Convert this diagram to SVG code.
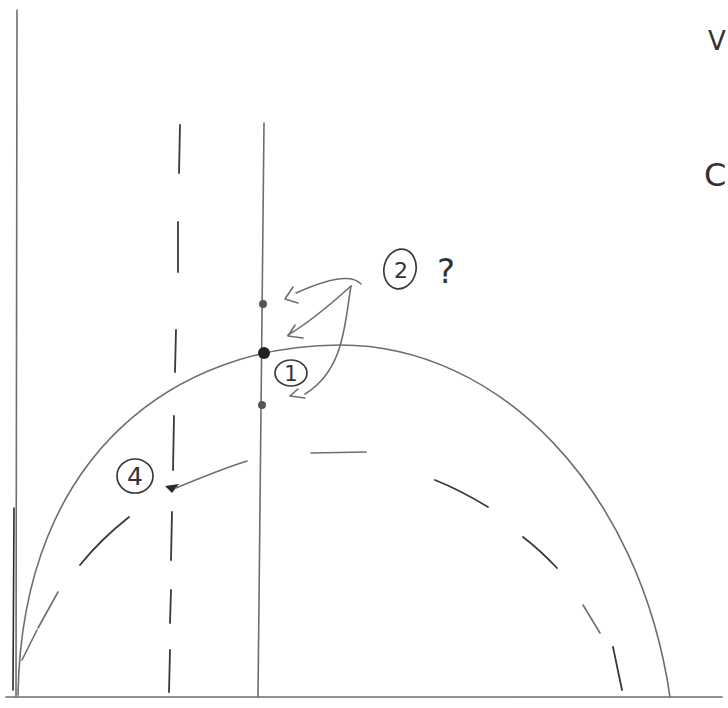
<svg xmlns="http://www.w3.org/2000/svg" width="728" height="708" viewBox="0 0 728 708">
<defs>
<style>
.pen{fill:none;stroke:#6e6e6e;stroke-width:1.6;stroke-linecap:round;stroke-linejoin:round}
.dark{fill:none;stroke:#2a2a2a;stroke-width:1.6;stroke-linecap:round}
.dash{fill:none;stroke:#3a3a3a;stroke-width:1.8;stroke-linecap:round}
.lbl{font-family:"DejaVu Sans","Liberation Sans",sans-serif;fill:#333}
.ring{fill:none;stroke:#3a3a3a;stroke-width:1.7}
</style>
</defs>
<rect width="728" height="708" fill="#fff"/>
<g id="axes">
<path class="pen" d="M17 10 L16 697"/>
<path class="dark" d="M14 508 L13 690"/>
<path class="pen" d="M6 697 L722 697"/>
</g>
<g id="curves">
<path class="pen" d="M18 695 C22 450 180 345 340 345 C500 345 640 490 670 697"/>
<g id="inner-arc">
<path class="pen" d="M22 660 L37 630"/>
<path class="pen" d="M38 628 L58 592"/>
<path class="dash" d="M80 565 Q100 540 129 517"/>
<path class="pen" d="M311 453 L366 452"/>
<path class="dash" d="M435 480 Q460 490 488 507"/>
<path class="dash" d="M523 537 Q540 550 557 568"/>
<path class="pen" d="M583 605 L600 633"/>
<path class="dash" d="M613 647 L622 690"/>
</g>
</g>
<g id="verticals">
<path class="dash" d="M180 125 L179 173"/>
<path class="dash" d="M178 222 L178 272"/>
<path class="dash" d="M176 330 L175 372"/>
<path class="dash" d="M174 416 L173 470"/>
<path class="dash" d="M172 512 L171 560"/>
<path class="dash" d="M171 590 L170 623"/>
<path class="dash" d="M170 650 L169 692"/>
<path class="pen" d="M264 123 L258 697"/>
</g>
<g id="point-2a"><circle cx="263" cy="304" r="4" fill="#555"/></g>
<g id="point-1"><circle cx="264" cy="353" r="6" fill="#222"/></g>
<g id="point-3"><circle cx="262" cy="405" r="4" fill="#555"/></g>
<g id="point-4"><path d="M165 486 L179 484 L172 493 Z" fill="#2a2a2a"/></g>
<g id="label-2">
<ellipse class="ring" cx="400" cy="269" rx="16" ry="20" transform="rotate(12 400 269)"/>
<text class="lbl" x="401" y="278" font-size="22" text-anchor="middle">2</text>
<text class="lbl" x="446" y="283" font-size="34" text-anchor="middle" fill="#444">?</text>
</g>
<g id="label-1">
<ellipse class="ring" cx="291" cy="373" rx="16" ry="13"/>
<text class="lbl" x="291" y="381" font-size="21" text-anchor="middle">1</text>
</g>
<g id="label-4">
<ellipse class="ring" cx="135" cy="476" rx="18" ry="17"/>
<text class="lbl" x="135" y="485" font-size="25" text-anchor="middle">4</text>
</g>
<g id="connectors">
<path class="pen" d="M361 284 C350 272 320 282 296 293"/>
<path class="pen" d="M293 287 L285 299 L298 303"/>
<path class="pen" d="M351 286 C330 305 310 322 288 335"/>
<path class="pen" d="M295 325 L288 336 L303 338"/>
<path class="pen" d="M351 286 C345 320 345 370 305 394"/>
<path class="pen" d="M298 389 L290 396 L305 398"/>
<path class="pen" d="M176 488 C200 478 225 468 247 461"/>
</g>
<g id="side-text">
<text class="lbl" x="708" y="50" font-size="26">V</text>
<text class="lbl" x="704" y="186" font-size="32">C</text>
</g>
</svg>
